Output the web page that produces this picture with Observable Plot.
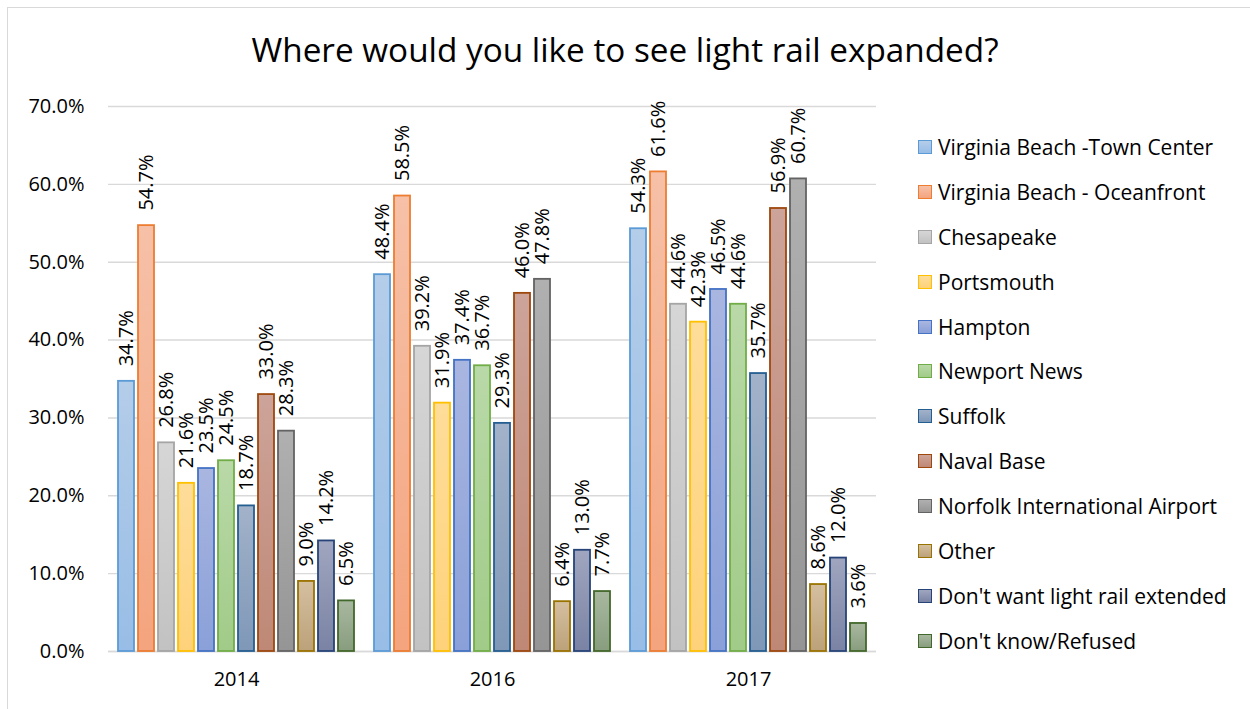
<!DOCTYPE html>
<html>
<head>
<meta charset="utf-8">
<script src="https://cdn.jsdelivr.net/npm/d3@7"></script>
<script src="https://cdn.jsdelivr.net/npm/@observablehq/plot@0.6"></script>
<style>
  body { margin: 0; background: #fff; font-family: "Open Sans", sans-serif; overflow: hidden; }
  #wrap { position: relative; width: 1250px; height: 709px; overflow: hidden; }
  #frame { position: absolute; left: 7px; top: 7px; width: 1300px; height: 800px;
           border-left: 1px solid #d9d9d9; border-top: 1px solid #d9d9d9; pointer-events: none; }
  #title { height: 88px; box-sizing: border-box; padding-top: 27px; text-align: center;
           font-size: 33.3px; line-height: 44px; color: #000; }
  #legend { position: absolute; left: 918px; top: 124.5px; }
  .row { display: flex; align-items: center; height: 44.9px; font-size: 21px; color: #000; white-space: nowrap; }
  .sw { width: 12px; height: 12px; margin-right: 6px; border: 1.5px solid; }
</style>
</head>
<body>
<div id="wrap">
  <div id="frame"></div>
  <div id="title">Where would you like to see light rail expanded?</div>
  <div id="chart"></div>
  <div id="legend"></div>
</div>
<script>
const years = ["2014", "2016", "2017"];
const categories = [
  "Virginia Beach -Town Center",
  "Virginia Beach - Oceanfront",
  "Chesapeake",
  "Portsmouth",
  "Hampton",
  "Newport News",
  "Suffolk",
  "Naval Base",
  "Norfolk International Airport",
  "Other",
  "Don't want light rail extended",
  "Don't know/Refused"
];
const values2014 = [34.7, 54.7, 26.8, 21.6, 23.5, 24.5, 18.7, 33.0, 28.3, 9.0, 14.2, 6.5];
const values2016 = [48.4, 58.5, 39.2, 31.9, 37.4, 36.7, 29.3, 46.0, 47.8, 6.4, 13.0, 7.7];
const values2017 = [54.3, 61.6, 44.6, 42.3, 46.5, 44.6, 35.7, 56.9, 60.7, 8.6, 12.0, 3.6];
const yTicks = [0, 10, 20, 30, 40, 50, 60, 70];

const strokeColors = ["#5B9BD5", "#ED7D31", "#A5A5A5", "#FFC000", "#4472C4", "#70AD47",
                      "#255E91", "#9E480E", "#636363", "#997300", "#264478", "#43682B"];
const fillTop =      ["#b4cde9", "#f6c1a8", "#d6d6d6", "#fedd9a", "#a9b6e0", "#b9d9a8",
                      "#a2b2c9", "#cda49a", "#b0b0b0", "#d4bfa0", "#a0a6bf", "#a8b8a0"];
const fillBottom =   ["#98bde6", "#f4a47e", "#c2c2c2", "#fed27a", "#8aa0d8", "#a1cb88",
                      "#7f98b8", "#bf8876", "#959595", "#bca27a", "#7a83a4", "#889d7e"];

const seriesByYear = [values2014, values2016, values2017];
const data = years.flatMap((yr, j) =>
  categories.map((c, i) => ({year: yr, cat: c, idx: i, value: seriesByYear[j][i]})));

// gradient definitions
const defsSvg = d3.select("body").append("svg")
  .attr("width", 0).attr("height", 0).style("position", "absolute");
const defs = defsSvg.append("defs");
categories.forEach((c, i) => {
  const g = defs.append("linearGradient").attr("id", "grad" + i)
    .attr("x1", 0).attr("y1", 0).attr("x2", 0).attr("y2", 1);
  g.append("stop").attr("offset", "0%").attr("stop-color", fillTop[i]);
  g.append("stop").attr("offset", "100%").attr("stop-color", fillBottom[i]);
});

const fmt = d => d.toFixed(1) + "%";

const bars = categories.map((c, i) =>
  Plot.barY(data.filter(d => d.idx === i), {
    fx: "year", x: "cat", y: "value",
    fill: `url(#grad${i})`, stroke: strokeColors[i], strokeWidth: 1.8
  }));

const chart = Plot.plot({
  width: 1250,
  height: 621,
  marginTop: 18,
  marginBottom: 58,
  marginLeft: 107,
  marginRight: 373,
  style: {fontFamily: "Open Sans, sans-serif", fontSize: "20px", color: "#000", background: "transparent", overflow: "visible"},
  fx: {domain: years, paddingInner: 0, paddingOuter: 0, label: null},
  x: {domain: categories, paddingInner: 0.2, paddingOuter: 0.42, axis: null},
  y: {domain: [0, 70], label: null},
  marks: [
    Plot.gridY(yTicks, {stroke: "#d9d9d9", strokeOpacity: 1, strokeWidth: 1.4}),
    Plot.ruleY([0], {stroke: "#d9d9d9", strokeWidth: 1.6}),
    Plot.axisY(yTicks, {tickSize: 0, tickPadding: 24, tickFormat: fmt, label: null, fontSize: 20, fill: "#000"}),
    Plot.axisFx({anchor: "bottom", tickSize: 0, tickPadding: 20, label: null, fontSize: 20, fill: "#000"}),
    ...bars,
    Plot.text(data, {
      fx: "year", x: "cat", y: "value", text: d => fmt(d.value),
      rotate: -90, textAnchor: "start", lineAnchor: "middle", dy: -15,
      fontSize: 20, fill: "#000"
    })
  ]
});
document.getElementById("chart").appendChild(chart);

// legend
const legend = d3.select("#legend");
categories.forEach((c, i) => {
  const row = legend.append("div").attr("class", "row");
  row.append("div").attr("class", "sw")
    .style("border-color", strokeColors[i])
    .style("background", `linear-gradient(${fillTop[i]}, ${fillBottom[i]})`);
  row.append("span").text(c);
});
</script>
</body>
</html>
